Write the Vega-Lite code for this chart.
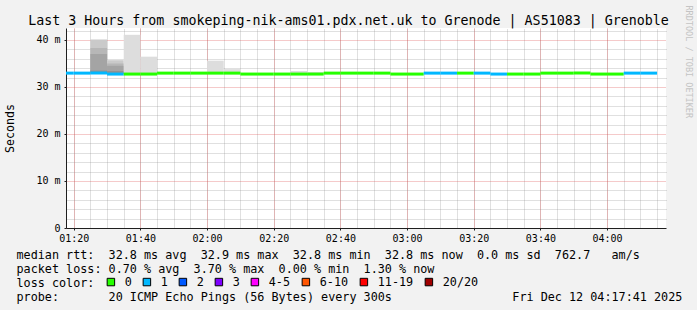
{
  "$schema": "https://vega.github.io/schema/vega-lite/v6.json",
  "width": 600,
  "height": 200,
  "autosize": {"type": "none"},
  "padding": {"left": 66, "top": 28, "right": 31, "bottom": 82},
  "background": "#f2f2f2",
  "config": {
    "view": {"fill": "#ffffff", "stroke": null},
    "font": "DejaVu Sans Mono",
    "axis": {"labelFont": "DejaVu Sans Mono", "titleFont": "DejaVu Sans Mono", "titleFontWeight": "normal", "labelColor": "#000000", "titleColor": "#000000"}
  },
  "datasets": {
    "smoke": [
      {"t": "2025-12-12T01:25:00", "t2": "2025-12-12T01:30:00", "layer": 2, "lo": 32.85, "hi": 40.1},
      {"t": "2025-12-12T01:25:00", "t2": "2025-12-12T01:30:00", "layer": 3, "lo": 32.85, "hi": 38.3},
      {"t": "2025-12-12T01:25:00", "t2": "2025-12-12T01:30:00", "layer": 4, "lo": 32.85, "hi": 37.0},
      {"t": "2025-12-12T01:25:00", "t2": "2025-12-12T01:30:00", "layer": 5, "lo": 32.85, "hi": 33.5},
      {"t": "2025-12-12T01:30:00", "t2": "2025-12-12T01:35:00", "layer": 2, "lo": 32.8, "hi": 35.7},
      {"t": "2025-12-12T01:30:00", "t2": "2025-12-12T01:35:00", "layer": 3, "lo": 32.8, "hi": 35.0},
      {"t": "2025-12-12T01:30:00", "t2": "2025-12-12T01:35:00", "layer": 4, "lo": 32.8, "hi": 34.5},
      {"t": "2025-12-12T01:30:00", "t2": "2025-12-12T01:35:00", "layer": 5, "lo": 32.8, "hi": 33.4},
      {"t": "2025-12-12T01:35:00", "t2": "2025-12-12T01:40:00", "layer": 1, "lo": 32.8, "hi": 41.1},
      {"t": "2025-12-12T01:40:00", "t2": "2025-12-12T01:45:00", "layer": 1, "lo": 32.8, "hi": 36.45},
      {"t": "2025-12-12T02:00:00", "t2": "2025-12-12T02:05:00", "layer": 1, "lo": 32.9, "hi": 35.6},
      {"t": "2025-12-12T02:05:00", "t2": "2025-12-12T02:10:00", "layer": 1, "lo": 32.9, "hi": 33.8},
      {"t": "2025-12-12T02:25:00", "t2": "2025-12-12T02:30:00", "layer": 1, "lo": 32.75, "hi": 33.4},
      {"t": "2025-12-12T02:30:00", "t2": "2025-12-12T02:35:00", "layer": 1, "lo": 32.75, "hi": 33.2}
    ],
    "rtt": [
      {"t": "2025-12-12T01:15:00", "t2": "2025-12-12T01:20:00", "loss": "1", "med": 32.95},
      {"t": "2025-12-12T01:20:00", "t2": "2025-12-12T01:25:00", "loss": "1", "med": 32.95},
      {"t": "2025-12-12T01:25:00", "t2": "2025-12-12T01:30:00", "loss": "1", "med": 32.95},
      {"t": "2025-12-12T01:30:00", "t2": "2025-12-12T01:35:00", "loss": "1", "med": 32.75},
      {"t": "2025-12-12T01:35:00", "t2": "2025-12-12T01:40:00", "loss": "0", "med": 32.75},
      {"t": "2025-12-12T01:40:00", "t2": "2025-12-12T01:45:00", "loss": "0", "med": 32.75},
      {"t": "2025-12-12T01:45:00", "t2": "2025-12-12T01:50:00", "loss": "0", "med": 32.95},
      {"t": "2025-12-12T01:50:00", "t2": "2025-12-12T01:55:00", "loss": "0", "med": 32.95},
      {"t": "2025-12-12T01:55:00", "t2": "2025-12-12T02:00:00", "loss": "0", "med": 32.95},
      {"t": "2025-12-12T02:00:00", "t2": "2025-12-12T02:05:00", "loss": "0", "med": 32.95},
      {"t": "2025-12-12T02:05:00", "t2": "2025-12-12T02:10:00", "loss": "0", "med": 32.95},
      {"t": "2025-12-12T02:10:00", "t2": "2025-12-12T02:15:00", "loss": "0", "med": 32.75},
      {"t": "2025-12-12T02:15:00", "t2": "2025-12-12T02:20:00", "loss": "0", "med": 32.75},
      {"t": "2025-12-12T02:20:00", "t2": "2025-12-12T02:25:00", "loss": "0", "med": 32.75},
      {"t": "2025-12-12T02:25:00", "t2": "2025-12-12T02:30:00", "loss": "0", "med": 32.75},
      {"t": "2025-12-12T02:30:00", "t2": "2025-12-12T02:35:00", "loss": "0", "med": 32.75},
      {"t": "2025-12-12T02:35:00", "t2": "2025-12-12T02:40:00", "loss": "0", "med": 32.95},
      {"t": "2025-12-12T02:40:00", "t2": "2025-12-12T02:45:00", "loss": "0", "med": 32.95},
      {"t": "2025-12-12T02:45:00", "t2": "2025-12-12T02:50:00", "loss": "0", "med": 32.95},
      {"t": "2025-12-12T02:50:00", "t2": "2025-12-12T02:55:00", "loss": "0", "med": 32.95},
      {"t": "2025-12-12T02:55:00", "t2": "2025-12-12T03:00:00", "loss": "0", "med": 32.75},
      {"t": "2025-12-12T03:00:00", "t2": "2025-12-12T03:05:00", "loss": "0", "med": 32.75},
      {"t": "2025-12-12T03:05:00", "t2": "2025-12-12T03:10:00", "loss": "1", "med": 32.95},
      {"t": "2025-12-12T03:10:00", "t2": "2025-12-12T03:15:00", "loss": "1", "med": 32.95},
      {"t": "2025-12-12T03:15:00", "t2": "2025-12-12T03:20:00", "loss": "0", "med": 32.95},
      {"t": "2025-12-12T03:20:00", "t2": "2025-12-12T03:25:00", "loss": "1", "med": 32.95},
      {"t": "2025-12-12T03:25:00", "t2": "2025-12-12T03:30:00", "loss": "1", "med": 32.75},
      {"t": "2025-12-12T03:30:00", "t2": "2025-12-12T03:35:00", "loss": "0", "med": 32.75},
      {"t": "2025-12-12T03:35:00", "t2": "2025-12-12T03:40:00", "loss": "0", "med": 32.75},
      {"t": "2025-12-12T03:40:00", "t2": "2025-12-12T03:45:00", "loss": "0", "med": 32.95},
      {"t": "2025-12-12T03:45:00", "t2": "2025-12-12T03:50:00", "loss": "0", "med": 32.95},
      {"t": "2025-12-12T03:50:00", "t2": "2025-12-12T03:55:00", "loss": "0", "med": 32.95},
      {"t": "2025-12-12T03:55:00", "t2": "2025-12-12T04:00:00", "loss": "0", "med": 32.75},
      {"t": "2025-12-12T04:00:00", "t2": "2025-12-12T04:05:00", "loss": "0", "med": 32.75},
      {"t": "2025-12-12T04:05:00", "t2": "2025-12-12T04:10:00", "loss": "1", "med": 32.95},
      {"t": "2025-12-12T04:10:00", "t2": "2025-12-12T04:15:00", "loss": "1", "med": 32.95}
    ]
  },
  "layer": [
    {
      "data": {"name": "smoke"},
      "mark": {"type": "rect"},
      "encoding": {
        "x": {
          "field": "t", "type": "temporal",
          "scale": {"domain": ["2025-12-12T01:17:41", "2025-12-12T04:17:41"], "nice": false, "padding": 0},
          "axis": {
            "orient": "top",
            "values": [
              {"year": 2025, "month": 12, "date": 12, "hours": 1, "minutes": 20},
              {"year": 2025, "month": 12, "date": 12, "hours": 1, "minutes": 25},
              {"year": 2025, "month": 12, "date": 12, "hours": 1, "minutes": 30},
              {"year": 2025, "month": 12, "date": 12, "hours": 1, "minutes": 35},
              {"year": 2025, "month": 12, "date": 12, "hours": 1, "minutes": 40},
              {"year": 2025, "month": 12, "date": 12, "hours": 1, "minutes": 45},
              {"year": 2025, "month": 12, "date": 12, "hours": 1, "minutes": 50},
              {"year": 2025, "month": 12, "date": 12, "hours": 1, "minutes": 55},
              {"year": 2025, "month": 12, "date": 12, "hours": 2, "minutes": 0},
              {"year": 2025, "month": 12, "date": 12, "hours": 2, "minutes": 5},
              {"year": 2025, "month": 12, "date": 12, "hours": 2, "minutes": 10},
              {"year": 2025, "month": 12, "date": 12, "hours": 2, "minutes": 15},
              {"year": 2025, "month": 12, "date": 12, "hours": 2, "minutes": 20},
              {"year": 2025, "month": 12, "date": 12, "hours": 2, "minutes": 25},
              {"year": 2025, "month": 12, "date": 12, "hours": 2, "minutes": 30},
              {"year": 2025, "month": 12, "date": 12, "hours": 2, "minutes": 35},
              {"year": 2025, "month": 12, "date": 12, "hours": 2, "minutes": 40},
              {"year": 2025, "month": 12, "date": 12, "hours": 2, "minutes": 45},
              {"year": 2025, "month": 12, "date": 12, "hours": 2, "minutes": 50},
              {"year": 2025, "month": 12, "date": 12, "hours": 2, "minutes": 55},
              {"year": 2025, "month": 12, "date": 12, "hours": 3, "minutes": 0},
              {"year": 2025, "month": 12, "date": 12, "hours": 3, "minutes": 5},
              {"year": 2025, "month": 12, "date": 12, "hours": 3, "minutes": 10},
              {"year": 2025, "month": 12, "date": 12, "hours": 3, "minutes": 15},
              {"year": 2025, "month": 12, "date": 12, "hours": 3, "minutes": 20},
              {"year": 2025, "month": 12, "date": 12, "hours": 3, "minutes": 25},
              {"year": 2025, "month": 12, "date": 12, "hours": 3, "minutes": 30},
              {"year": 2025, "month": 12, "date": 12, "hours": 3, "minutes": 35},
              {"year": 2025, "month": 12, "date": 12, "hours": 3, "minutes": 40},
              {"year": 2025, "month": 12, "date": 12, "hours": 3, "minutes": 45},
              {"year": 2025, "month": 12, "date": 12, "hours": 3, "minutes": 50},
              {"year": 2025, "month": 12, "date": 12, "hours": 3, "minutes": 55},
              {"year": 2025, "month": 12, "date": 12, "hours": 4, "minutes": 0},
              {"year": 2025, "month": 12, "date": 12, "hours": 4, "minutes": 5},
              {"year": 2025, "month": 12, "date": 12, "hours": 4, "minutes": 10},
              {"year": 2025, "month": 12, "date": 12, "hours": 4, "minutes": 15}
            ],
            "grid": true, "gridColor": "#8f8f8f", "gridOpacity": 0.55, "gridDash": [1, 1],
            "labels": false, "ticks": false, "domain": false,
            "title": "Last 3 Hours from smokeping-nik-ams01.pdx.net.uk to Grenode | AS51083 | Grenoble",
            "titleX": 282, "titleY": -4, "titleAlign": "center", "titleBaseline": "alphabetic", "titleFontSize": 13.3
          }
        },
        "x2": {"field": "t2"},
        "y": {
          "field": "hi", "type": "quantitative",
          "scale": {"domain": [0, 42.55], "nice": false, "zero": false, "padding": 0},
          "axis": {
            "orient": "right", "values": [2, 4, 6, 8, 12, 14, 16, 18, 22, 24, 26, 28, 32, 34, 36, 38, 42],
            "grid": true, "gridColor": "#8f8f8f", "gridOpacity": 0.55, "gridDash": [1, 1],
            "labels": false, "ticks": false, "domain": false,
            "title": "RRDTOOL / TOBI OETIKER", "titleAngle": 90, "titleX": 22, "titleY": -23,
            "titleAlign": "left", "titleBaseline": "middle", "titleFontSize": 8.5, "titleColor": "#c4c4c4"
          }
        },
        "y2": {"field": "lo"},
        "fill": {
          "field": "layer", "type": "ordinal",
          "scale": {"domain": [1, 2, 3, 4, 5], "range": ["#dddddd", "#cacaca", "#b7b7b7", "#a4a4a4", "#919191"]},
          "legend": null
        }
      }
    },
    {
      "data": {"name": "rtt"},
      "mark": {"type": "bar", "orient": "horizontal", "height": 3, "clip": true},
      "encoding": {
        "x": {
          "field": "t", "type": "temporal",
          "scale": {"domain": ["2025-12-12T01:17:41", "2025-12-12T04:17:41"], "nice": false, "padding": 0},
          "axis": {
            "orient": "bottom",
            "values": [
              {"year": 2025, "month": 12, "date": 12, "hours": 1, "minutes": 20},
              {"year": 2025, "month": 12, "date": 12, "hours": 1, "minutes": 40},
              {"year": 2025, "month": 12, "date": 12, "hours": 2, "minutes": 0},
              {"year": 2025, "month": 12, "date": 12, "hours": 2, "minutes": 20},
              {"year": 2025, "month": 12, "date": 12, "hours": 2, "minutes": 40},
              {"year": 2025, "month": 12, "date": 12, "hours": 3, "minutes": 0},
              {"year": 2025, "month": 12, "date": 12, "hours": 3, "minutes": 20},
              {"year": 2025, "month": 12, "date": 12, "hours": 3, "minutes": 40},
              {"year": 2025, "month": 12, "date": 12, "hours": 4, "minutes": 0}
            ],
            "format": "%H:%M",
            "grid": true, "gridColor": "#de4f4f", "gridOpacity": 0.6, "gridDash": [1, 1],
            "domainColor": "#1f1f1f", "tickColor": "#1f1f1f", "tickSize": 2,
            "labelFontSize": 10, "labelPadding": 3, "labelFlush": false, "labelOverlap": false,
            "title": [
              "median\u00a0rtt:\u00a0\u00a032.8\u00a0ms\u00a0avg\u00a0\u00a032.9\u00a0ms\u00a0max\u00a0\u00a032.8\u00a0ms\u00a0min\u00a0\u00a032.8\u00a0ms\u00a0now\u00a0\u00a00.0\u00a0ms\u00a0sd\u00a0\u00a0762.7\u00a0\u00a0\u00a0am/s",
              "packet\u00a0loss:\u00a00.70\u00a0%\u00a0avg\u00a0\u00a03.70\u00a0%\u00a0max\u00a0\u00a00.00\u00a0%\u00a0min\u00a0\u00a01.30\u00a0%\u00a0now",
              "loss\u00a0color:",
              "probe:\u00a0\u00a0\u00a0\u00a0\u00a0\u00a0\u00a020\u00a0ICMP\u00a0Echo\u00a0Pings\u00a0(56\u00a0Bytes)\u00a0every\u00a0300s\u00a0\u00a0\u00a0\u00a0\u00a0\u00a0\u00a0\u00a0\u00a0\u00a0\u00a0\u00a0\u00a0\u00a0\u00a0\u00a0\u00a0Fri\u00a0Dec\u00a012\u00a004:17:41\u00a02025"
            ],
            "titleX": -50, "titleY": 30.5, "titleAlign": "left", "titleBaseline": "alphabetic",
            "titleFontSize": 11.78, "titleLineHeight": 13.9
          }
        },
        "x2": {"field": "t2"},
        "y": {
          "field": "med", "type": "quantitative",
          "scale": {"domain": [0, 42.55], "nice": false, "zero": false, "padding": 0},
          "axis": {
            "orient": "left", "values": [0, 10, 20, 30, 40],
            "grid": true, "gridColor": "#de4f4f", "gridOpacity": 0.6, "gridDash": [1, 1],
            "domainColor": "#1f1f1f", "tickColor": "#1f1f1f", "tickSize": 2,
            "labelExpr": "datum.value == 0 ? '0' : datum.value + ' m'",
            "labelFontSize": 10, "labelPadding": 4,
            "title": "Seconds", "titleAngle": -90, "titleX": -55.5, "titleY": 100,
            "titleAlign": "center", "titleBaseline": "middle", "titleFontSize": 11.6
          }
        },
        "color": {
          "field": "loss", "type": "nominal",
          "scale": {"domain": ["0", "1", "2", "3", "4-5", "6-10", "11-19", "20/20"], "range": ["#26ff00", "#00b8ff", "#0059ff", "#7e00ff", "#ff00ff", "#ff5500", "#ff0000", "#a00000"]},
          "legend": {
            "orient": "none", "legendX": 39, "legendY": 248, "direction": "horizontal",
            "title": null,
            "labelFont": "DejaVu Sans Mono", "labelFontSize": 11.78, "labelColor": "#000000", "labelOffset": 8,
            "columnPadding": 9, "padding": 0, "symbolType": "square", "symbolSize": 56,
            "symbolStrokeWidth": 1, "symbolStrokeColor": "#000000", "symbolOpacity": 1
          }
        }
      }
    }
  ],
  "resolve": {"scale": {"x": "independent", "y": "independent"}}
}
